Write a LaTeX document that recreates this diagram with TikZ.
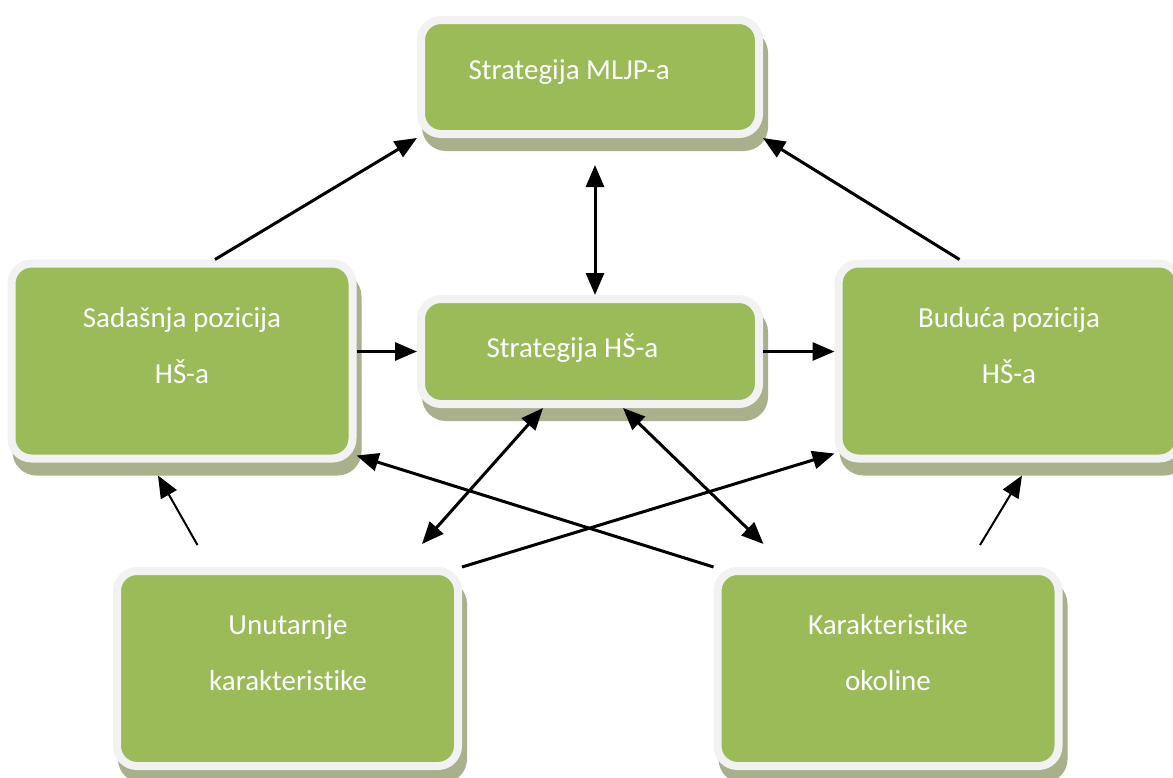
\documentclass[tikz,border=0pt]{standalone}
\usepackage{fontspec}
\setmainfont{Carlito}[Ligatures=NoCommon]
\usetikzlibrary{arrows.meta,shadows}

\definecolor{boxgreen}{RGB}{155,187,89}
\definecolor{boxrim}{RGB}{242,242,242}
\definecolor{boxshade}{RGB}{168,176,140}

\begin{document}
\begin{tikzpicture}[x=1pt, y=-1pt,
    box/.style={rectangle, rounded corners=20pt, fill=boxgreen, draw=boxrim, line width=8pt,
        general shadow={fill=boxshade, draw=boxshade, line width=8pt, shadow xshift=5pt, shadow yshift=-13pt}},
    wide/.style={box, minimum width=338pt, minimum height=105pt},
    big/.style={box, minimum width=341pt, minimum height=195pt},
    boxtext/.style={text=white, font=\fontsize{29}{56}\selectfont, align=center},
    arr/.style={line width=3pt, -{Triangle[length=22pt,width=18pt]}},
    dbl/.style={line width=3pt, {Triangle[length=22pt,width=18pt]}-{Triangle[length=22pt,width=18pt]}},
    thin/.style={arr, line width=2pt}]
\useasboundingbox (0,0) rectangle (1173,777);
\clip (0,0) rectangle (1173,777);

\node[wide, minimum height=114pt] (mljp) at (590,77) {};
\node[wide] (strat) at (590,351.5) {};
\node[big] (sad) at (182,361) {};
\node[big] (bud) at (1009,361) {};
\node[big] (unut) at (287.5,668.5) {};
\node[big] (kar) at (888,668.5) {};

\node[boxtext, anchor=base west] (mljptxt) at (465,79) {Strategija MLJP-a};
\node[boxtext, anchor=base west] (strattxt) at (483,357) {Strategija HŠ-a};
\node[boxtext] (sadtxt) at (182,346) {Sadašnja pozicija\\HŠ-a};
\node[boxtext] (budtxt) at (1009,346) {Buduća pozicija\\HŠ-a};
\node[boxtext] (unuttxt) at (288,653) {Unutarnje\\karakteristike};
\node[boxtext] (kartxt) at (888,653) {Karakteristike\\okoline};

\draw[arr] (sad.72) -- (mljp.south west);
\draw[arr] (bud.116) -- (mljp.south east);
\draw[dbl] ([xshift=5pt,yshift=-27pt]mljp.south) -- ([xshift=5pt]strat.north);
\draw[arr] (sad.east |- strat.west) -- (strat.west);
\draw[arr] (strat.east) -- (bud.west |- strat.east);
\draw[dbl] ([xshift=-47pt]strat.south) -- ([xshift=-40pt,yshift=23pt]unut.north east);
\draw[dbl] ([xshift=33pt]strat.south) -- ([xshift=50pt,yshift=23pt]kar.north west);
\draw[arr] (kar.north west) -- ([yshift=7pt]sad.south east);
\draw[arr] (unut.north east) -- ([yshift=9pt]bud.south west);
\draw[thin] ([xshift=-90pt,yshift=22pt]unut.north) -- ([xshift=-24pt,yshift=-13pt]sad.south);
\draw[thin] ([xshift=92pt,yshift=22pt]kar.north) -- ([xshift=13pt,yshift=-13pt]bud.south);
\end{tikzpicture}
\end{document}
